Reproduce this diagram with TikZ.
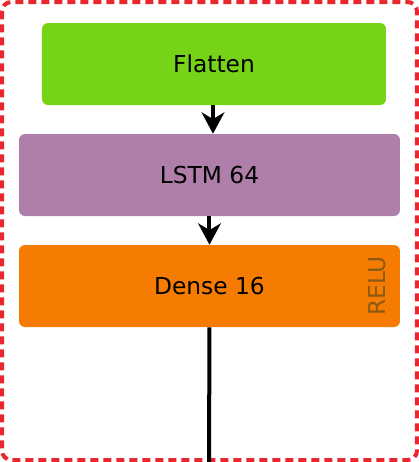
\documentclass[tikz,border=0pt]{standalone}
\usepackage{fontspec}
\setmainfont{DejaVu Sans}
\usetikzlibrary{arrows.meta}
\definecolor{flatgreen}{RGB}{118,211,24}
\definecolor{lstmpurple}{RGB}{175,127,169}
\definecolor{denseorange}{RGB}{245,124,0}
\definecolor{framered}{RGB}{232,40,46}
\definecolor{actbrown}{RGB}{140,90,20}
\begin{document}
\begin{tikzpicture}[x=0.75pt,y=-0.75pt,
    layer/.style={rounded corners=4.5pt,inner sep=0pt,minimum height=61.5pt,
        font=\fontsize{17.5}{21}\selectfont},
    flow/.style={line width=3pt,-{Stealth[length=16pt,width=17pt,inset=5pt]}}]
        \useasboundingbox (0,0) rectangle (419,462);

        % Marco punteado
        \draw[framered,line width=3pt,dash pattern=on 6pt off 3.75pt,rounded corners=7pt]
            (2,2) rectangle (417,460);

        % Capas
        \node[layer,fill=flatgreen,minimum width=258pt] (flatten) at (214,64) {Flatten};
        \node[layer,fill=lstmpurple,minimum width=285.75pt] (lstm) at (209.5,175) {LSTM 64};
        \node[layer,fill=denseorange,minimum width=285.75pt] (dense) at (209.5,286) {Dense 16};

        % Activacion
        \node[rotate=90,text=actbrown,font=\fontsize{17.5}{21}\selectfont] (relu) at (377,286) {RELU};

        % Conexiones
        \coordinate (out) at (209,462);
        \draw[flow] (flatten.south -| 213,0) -- (lstm.north -| 213,0);
        \draw[flow] (lstm.south) -- (dense.north);
        \draw[line width=3pt] (dense.south) -- (out);
    \end{tikzpicture}
\end{document}
